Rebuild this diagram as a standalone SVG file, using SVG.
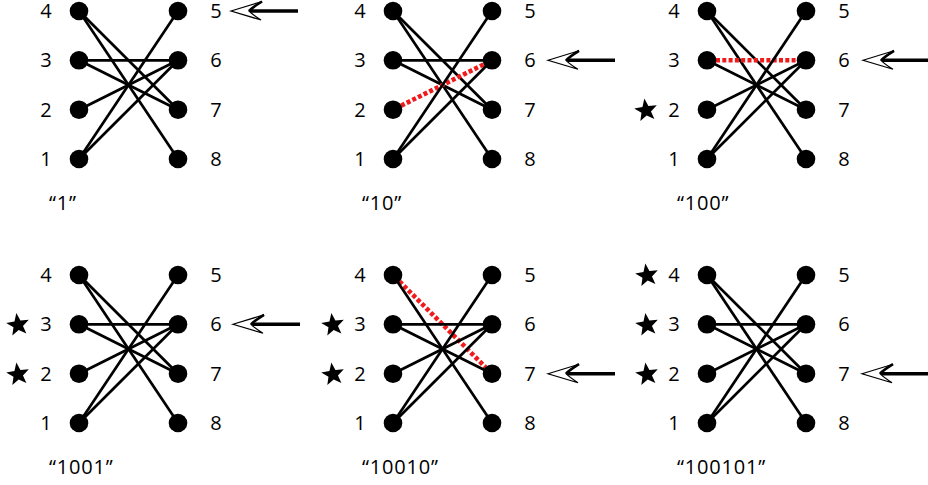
<svg xmlns="http://www.w3.org/2000/svg" width="928" height="485" viewBox="0 0 928 485">
<style>
.e{stroke:#000;stroke-width:2.7;fill:none}
.r{stroke:#f01a1a;stroke-width:4.6;stroke-dasharray:4 2.3;fill:none}
.n{fill:#000}
.t{font-family:"Open Sans","DejaVu Sans",sans-serif;font-size:20px;fill:#000;text-anchor:middle}
.q{font-family:"Open Sans","DejaVu Sans",sans-serif;font-size:20px;fill:#000;letter-spacing:0.8px}
.ar{fill:#fff;stroke:#000;stroke-width:1.2;stroke-linejoin:miter}
.ab{fill:none;stroke:#000;stroke-width:2.6}
.al{stroke:#000;stroke-width:3.5}
</style>
<defs>
<path id="star" d="M0,-12 L3,-4 L11.4,-3.7 L4.8,1.6 L7.1,9.7 L0,5 L-7.1,9.7 L-4.8,1.6 L-11.4,-3.7 L-3,-4 Z" transform="rotate(-8)"/>
<g id="arrow">
<line class="al" x1="18" y1="0" x2="67" y2="0"/>
<path class="ar" d="M0,0 L31,-9.5 Q22,-4 18,0 Q22,4 30,9 Z"/>
<path class="ab" d="M31,-9.5 Q22,-4 18,0"/>
</g>
</defs>
<rect width="928" height="485" fill="#fff"/>

<g id="connectors">
<g id="c1">
<line class="e" x1="79" y1="11" x2="178" y2="109.7"/>
<line class="e" x1="79" y1="11" x2="178" y2="159"/>
<line class="e" x1="79" y1="60.3" x2="178" y2="60.3"/>
<line class="e" x1="79" y1="60.3" x2="178" y2="109.7"/>
<line class="e" x1="79" y1="109.7" x2="178" y2="60.3"/>
<line class="e" x1="79" y1="159" x2="178" y2="11"/>
<line class="e" x1="79" y1="159" x2="178" y2="60.3"/>
<use href="#arrow" x="231" y="11"/>
</g>
<g id="c2" transform="translate(314,0)">
<line class="e" x1="79" y1="11" x2="178" y2="109.7"/>
<line class="e" x1="79" y1="11" x2="178" y2="159"/>
<line class="e" x1="79" y1="60.3" x2="178" y2="60.3"/>
<line class="e" x1="79" y1="60.3" x2="178" y2="109.7"/>
<line class="r" x1="87.1" y1="105.7" x2="169.9" y2="64.3"/>
<line class="e" x1="79" y1="159" x2="178" y2="11"/>
<line class="e" x1="79" y1="159" x2="178" y2="60.3"/>
<use href="#arrow" x="234" y="60.3"/>
</g>
<g id="c3" transform="translate(628,0)">
<line class="e" x1="79" y1="11" x2="178" y2="109.7"/>
<line class="e" x1="79" y1="11" x2="178" y2="159"/>
<line class="r" x1="88" y1="60.3" x2="170" y2="60.3"/>
<line class="e" x1="79" y1="60.3" x2="178" y2="109.7"/>
<line class="e" x1="79" y1="109.7" x2="178" y2="60.3"/>
<line class="e" x1="79" y1="159" x2="178" y2="11"/>
<line class="e" x1="79" y1="159" x2="178" y2="60.3"/>
<use href="#arrow" x="235" y="60.3"/>
</g>
<g id="c4" transform="translate(0,264)">
<line class="e" x1="79" y1="11" x2="178" y2="109.7"/>
<line class="e" x1="79" y1="11" x2="178" y2="159"/>
<line class="e" x1="79" y1="60.3" x2="178" y2="60.3"/>
<line class="e" x1="79" y1="60.3" x2="178" y2="109.7"/>
<line class="e" x1="79" y1="109.7" x2="178" y2="60.3"/>
<line class="e" x1="79" y1="159" x2="178" y2="11"/>
<line class="e" x1="79" y1="159" x2="178" y2="60.3"/>
<use href="#arrow" x="233" y="60.3"/>
</g>
<g id="c5" transform="translate(314,264)">
<line class="r" x1="85.4" y1="17.4" x2="171.6" y2="103.3"/>
<line class="e" x1="79" y1="11" x2="178" y2="159"/>
<line class="e" x1="79" y1="60.3" x2="178" y2="60.3"/>
<line class="e" x1="79" y1="60.3" x2="178" y2="109.7"/>
<line class="e" x1="79" y1="109.7" x2="178" y2="60.3"/>
<line class="e" x1="79" y1="159" x2="178" y2="11"/>
<line class="e" x1="79" y1="159" x2="178" y2="60.3"/>
<use href="#arrow" x="234" y="109.7"/>
</g>
<g id="c6" transform="translate(628,264)">
<line class="e" x1="79" y1="11" x2="178" y2="109.7"/>
<line class="e" x1="79" y1="11" x2="178" y2="159"/>
<line class="e" x1="79" y1="60.3" x2="178" y2="60.3"/>
<line class="e" x1="79" y1="60.3" x2="178" y2="109.7"/>
<line class="e" x1="79" y1="109.7" x2="178" y2="60.3"/>
<line class="e" x1="79" y1="159" x2="178" y2="11"/>
<line class="e" x1="79" y1="159" x2="178" y2="60.3"/>
<use href="#arrow" x="234" y="109.7"/>
</g>
</g>

<g id="panel1">
<g id="p1-n4"><circle class="n" cx="79" cy="11" r="9.3"/><text class="t" x="46" y="18">4</text></g>
<g id="p1-n3"><circle class="n" cx="79" cy="60.3" r="9.3"/><text class="t" x="46" y="67.3">3</text></g>
<g id="p1-n2"><circle class="n" cx="79" cy="109.7" r="9.3"/><text class="t" x="46" y="116.7">2</text></g>
<g id="p1-n1"><circle class="n" cx="79" cy="159" r="9.3"/><text class="t" x="46" y="166">1</text></g>
<g id="p1-n5"><circle class="n" cx="178" cy="11" r="9.3"/><text class="t" x="216" y="18">5</text></g>
<g id="p1-n6"><circle class="n" cx="178" cy="60.3" r="9.3"/><text class="t" x="216" y="67.3">6</text></g>
<g id="p1-n7"><circle class="n" cx="178" cy="109.7" r="9.3"/><text class="t" x="216" y="116.7">7</text></g>
<g id="p1-n8"><circle class="n" cx="178" cy="159" r="9.3"/><text class="t" x="216" y="166">8</text></g>
<text class="q" x="49" y="210">“1”</text>
</g>

<g id="panel2" transform="translate(314,0)">
<g id="p2-n4"><circle class="n" cx="79" cy="11" r="9.3"/><text class="t" x="46" y="18">4</text></g>
<g id="p2-n3"><circle class="n" cx="79" cy="60.3" r="9.3"/><text class="t" x="46" y="67.3">3</text></g>
<g id="p2-n2"><circle class="n" cx="79" cy="109.7" r="9.3"/><text class="t" x="46" y="116.7">2</text></g>
<g id="p2-n1"><circle class="n" cx="79" cy="159" r="9.3"/><text class="t" x="46" y="166">1</text></g>
<g id="p2-n5"><circle class="n" cx="178" cy="11" r="9.3"/><text class="t" x="216" y="18">5</text></g>
<g id="p2-n6"><circle class="n" cx="178" cy="60.3" r="9.3"/><text class="t" x="216" y="67.3">6</text></g>
<g id="p2-n7"><circle class="n" cx="178" cy="109.7" r="9.3"/><text class="t" x="216" y="116.7">7</text></g>
<g id="p2-n8"><circle class="n" cx="178" cy="159" r="9.3"/><text class="t" x="216" y="166">8</text></g>
<text class="q" x="48" y="210">“10”</text>
</g>

<g id="panel3" transform="translate(628,0)">
<g id="p3-n4"><circle class="n" cx="79" cy="11" r="9.3"/><text class="t" x="46" y="18">4</text></g>
<g id="p3-n3"><circle class="n" cx="79" cy="60.3" r="9.3"/><text class="t" x="46" y="67.3">3</text></g>
<g id="p3-n2"><circle class="n" cx="79" cy="109.7" r="9.3"/><text class="t" x="46" y="116.7">2</text><use href="#star" x="18" y="110.5"/></g>
<g id="p3-n1"><circle class="n" cx="79" cy="159" r="9.3"/><text class="t" x="46" y="166">1</text></g>
<g id="p3-n5"><circle class="n" cx="178" cy="11" r="9.3"/><text class="t" x="216" y="18">5</text></g>
<g id="p3-n6"><circle class="n" cx="178" cy="60.3" r="9.3"/><text class="t" x="216" y="67.3">6</text></g>
<g id="p3-n7"><circle class="n" cx="178" cy="109.7" r="9.3"/><text class="t" x="216" y="116.7">7</text></g>
<g id="p3-n8"><circle class="n" cx="178" cy="159" r="9.3"/><text class="t" x="216" y="166">8</text></g>
<text class="q" x="49" y="210">“100”</text>
</g>

<g id="panel4" transform="translate(0,264)">
<g id="p4-n4"><circle class="n" cx="79" cy="11" r="9.3"/><text class="t" x="46" y="18">4</text></g>
<g id="p4-n3"><circle class="n" cx="79" cy="60.3" r="9.3"/><text class="t" x="46" y="67.3">3</text><use href="#star" x="18" y="61"/></g>
<g id="p4-n2"><circle class="n" cx="79" cy="109.7" r="9.3"/><text class="t" x="46" y="116.7">2</text><use href="#star" x="18" y="110.5"/></g>
<g id="p4-n1"><circle class="n" cx="79" cy="159" r="9.3"/><text class="t" x="46" y="166">1</text></g>
<g id="p4-n5"><circle class="n" cx="178" cy="11" r="9.3"/><text class="t" x="216" y="18">5</text></g>
<g id="p4-n6"><circle class="n" cx="178" cy="60.3" r="9.3"/><text class="t" x="216" y="67.3">6</text></g>
<g id="p4-n7"><circle class="n" cx="178" cy="109.7" r="9.3"/><text class="t" x="216" y="116.7">7</text></g>
<g id="p4-n8"><circle class="n" cx="178" cy="159" r="9.3"/><text class="t" x="216" y="166">8</text></g>
<text class="q" x="49" y="210">“1001”</text>
</g>

<g id="panel5" transform="translate(314,264)">
<g id="p5-n4"><circle class="n" cx="79" cy="11" r="9.3"/><text class="t" x="46" y="18">4</text></g>
<g id="p5-n3"><circle class="n" cx="79" cy="60.3" r="9.3"/><text class="t" x="46" y="67.3">3</text><use href="#star" x="19" y="61"/></g>
<g id="p5-n2"><circle class="n" cx="79" cy="109.7" r="9.3"/><text class="t" x="46" y="116.7">2</text><use href="#star" x="19" y="110.5"/></g>
<g id="p5-n1"><circle class="n" cx="79" cy="159" r="9.3"/><text class="t" x="46" y="166">1</text></g>
<g id="p5-n5"><circle class="n" cx="178" cy="11" r="9.3"/><text class="t" x="216" y="18">5</text></g>
<g id="p5-n6"><circle class="n" cx="178" cy="60.3" r="9.3"/><text class="t" x="216" y="67.3">6</text></g>
<g id="p5-n7"><circle class="n" cx="178" cy="109.7" r="9.3"/><text class="t" x="216" y="116.7">7</text></g>
<g id="p5-n8"><circle class="n" cx="178" cy="159" r="9.3"/><text class="t" x="216" y="166">8</text></g>
<text class="q" x="48" y="210">“10010”</text>
</g>

<g id="panel6" transform="translate(628,264)">
<g id="p6-n4"><circle class="n" cx="79" cy="11" r="9.3"/><text class="t" x="46" y="18">4</text><use href="#star" x="19" y="11.5"/></g>
<g id="p6-n3"><circle class="n" cx="79" cy="60.3" r="9.3"/><text class="t" x="46" y="67.3">3</text><use href="#star" x="19" y="61"/></g>
<g id="p6-n2"><circle class="n" cx="79" cy="109.7" r="9.3"/><text class="t" x="46" y="116.7">2</text><use href="#star" x="19" y="110.5"/></g>
<g id="p6-n1"><circle class="n" cx="79" cy="159" r="9.3"/><text class="t" x="46" y="166">1</text></g>
<g id="p6-n5"><circle class="n" cx="178" cy="11" r="9.3"/><text class="t" x="216" y="18">5</text></g>
<g id="p6-n6"><circle class="n" cx="178" cy="60.3" r="9.3"/><text class="t" x="216" y="67.3">6</text></g>
<g id="p6-n7"><circle class="n" cx="178" cy="109.7" r="9.3"/><text class="t" x="216" y="116.7">7</text></g>
<g id="p6-n8"><circle class="n" cx="178" cy="159" r="9.3"/><text class="t" x="216" y="166">8</text></g>
<text class="q" x="49" y="210">“100101”</text>
</g>
</svg>
